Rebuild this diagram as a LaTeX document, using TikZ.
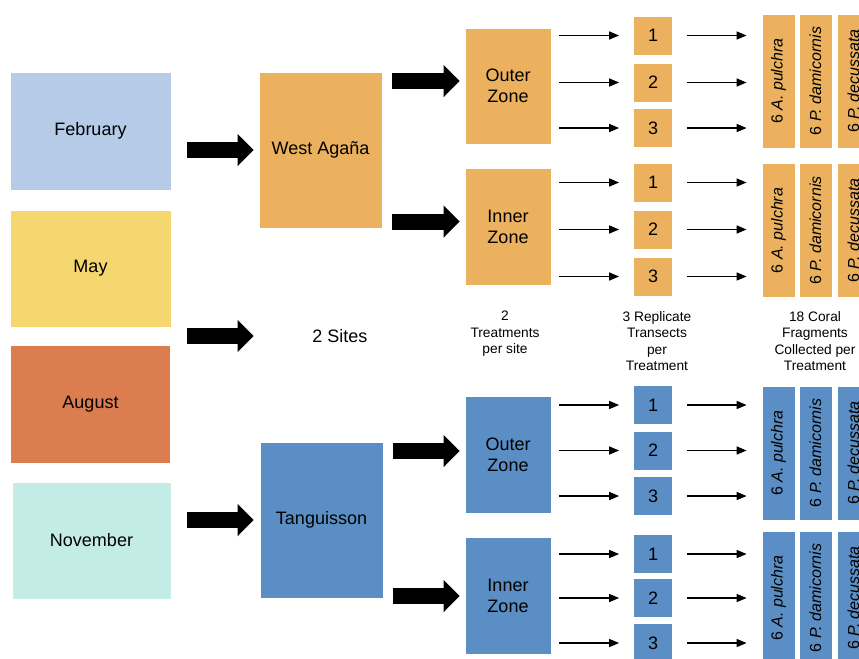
\documentclass[tikz,border=0pt]{standalone}
\usepackage{fontspec}
\setmainfont{Liberation Sans}
\usetikzlibrary{arrows.meta,calc}
\definecolor{cfeb}{RGB}{181,203,232}
\definecolor{cmay}{RGB}{246,214,110}
\definecolor{caug}{RGB}{220,125,80}
\definecolor{cnov}{RGB}{196,236,230}
\definecolor{corg}{RGB}{235,177,94}
\definecolor{cblu}{RGB}{91,142,196}
\begin{document}
\begin{tikzpicture}[x=0.75pt,y=-0.75pt,
  box/.style 2 args={draw=white, line width=0.6pt, inner sep=0pt, minimum width=#1*0.75pt, minimum height=#2*0.75pt, align=center},
  big/.style={font=\fontsize{13.5}{15.75}\selectfont},
  num/.style={box={39}{39}, fill=#1, font=\fontsize{13.5}{15.75}\selectfont},
  coral/.style={box={33}{134}, fill=#1},
  ctext/.style={rotate=90, font=\fontsize{12}{14}\selectfont, inner sep=0pt},
  lbl/.style={align=center, inner sep=0pt, anchor=north, font=\fontsize{10.3}{12.4}\selectfont},
  bigarr/.style={line width=12pt, -{Triangle[length=12pt,width=23.5pt]}},
  thinarr/.style={line width=1.1pt, -{Triangle[length=7.5pt,width=6pt]}, shorten <=6pt, shorten >=10.5pt}
]
\useasboundingbox (0,0) rectangle (859,658);
\clip (0,0) rectangle (859,658);
% months
\node[box={161}{118}, fill=cfeb, big] (feb) at (90.5,131) {February};
\node[box={161}{117}, fill=cmay, big] (may) at (90.5,268.5) {May};
\node[box={160}{118}, fill=caug, big] (aug) at (90.5,404) {August};
\node[box={159}{117}, fill=cnov, big] (nov) at (91.5,540.5) {November};
% sites
\node[box={123}{156}, fill=corg, big] (wa) at (320.5,150) {West Agaña};
\node[box={123}{156}, fill=cblu, big] (tg) at (321.5,520) {Tanguisson};
\node[big, inner sep=0pt] (sites) at (340,336) {2 Sites};
\coordinate (gap) at ($(may.south east)!0.5!(aug.north east)$);
% zones
\node[box={86}{116}, fill=corg, big] (oz1) at (508,86) {Outer\\Zone};
\node[box={86}{117}, fill=corg, big] (iz1) at (508,226.5) {Inner\\Zone};
\node[box={86}{117}, fill=cblu, big] (oz2) at (508,454.5) {Outer\\Zone};
\node[box={86}{117}, fill=cblu, big] (iz2) at (508,595.5) {Inner\\Zone};
% big arrows
\draw[bigarr, shorten <=12pt, shorten >=3.75pt] (feb.east |- wa.west) -- (wa.west);
\draw[bigarr, shorten <=12pt, shorten >=44pt] (gap) -- (gap -| sites.west);
\draw[bigarr, shorten <=12pt, shorten >=4.5pt] (nov.east |- tg.west) -- (tg.west);
\draw[bigarr, shorten <=7.5pt, shorten >=3.75pt] ($(oz1.west -| wa.east)+(0,-5)$) -- ($(oz1.west)+(0,-5)$);
\draw[bigarr, shorten <=7.5pt, shorten >=3.75pt] ($(iz1.west -| wa.east)+(0,-5)$) -- ($(iz1.west)+(0,-5)$);
\draw[bigarr, shorten <=7.5pt, shorten >=3.75pt] ($(oz2.west -| tg.east)+(0,-3.5)$) -- ($(oz2.west)+(0,-3.5)$);
\draw[bigarr, shorten <=7.5pt, shorten >=3.75pt] ($(iz2.west -| tg.east)+(0,0.5)$) -- ($(iz2.west)+(0,0.5)$);
% number boxes and coral columns
\foreach \z/\col/\ya/\yb/\yc/\yk in {oz1/corg/35.5/82.5/128/81, iz1/corg/182.5/229.5/276.5/230.5, oz2/cblu/405/450.5/496/453, iz2/cblu/554/598/643/598}{
  \node[num=\col] (\z n1) at (653,\ya) {1};
  \node[num=\col] (\z n2) at (653,\yb) {2};
  \node[num=\col] (\z n3) at (653,\yc) {3};
  \node[coral=\col] (\z ca) at (778.5,\yk) {};
  \node[coral=\col] (\z cb) at (815.5,\yk) {};
  \node[coral=\col] (\z cc) at (853.5,\yk) {};
  \node[ctext] at (\z ca) {6 \textit{A. pulchra}};
  \node[ctext] at (\z cb) {6 \textit{P. damicornis}};
  \node[ctext] at (\z cc) {6 \textit{P. decussata}};
  \foreach \k in {1,2,3}{
    \draw[thinarr] (\z n\k.west -| \z.east) -- (\z n\k.west);
    \draw[thinarr, shorten <=10.5pt, shorten >=11.25pt] (\z n\k.east) -- (\z n\k.east -| \z ca.west);
  }
}
% column labels
\node[lbl] (l1) at (505,311) {2\\Treatments\\per site};
\node[lbl] (l2) at (657,311) {3 Replicate\\Transects\\per\\Treatment};
\node[lbl] (l3) at (815,311) {18 Coral\\Fragments\\Collected per\\Treatment};
\end{tikzpicture}
\end{document}
